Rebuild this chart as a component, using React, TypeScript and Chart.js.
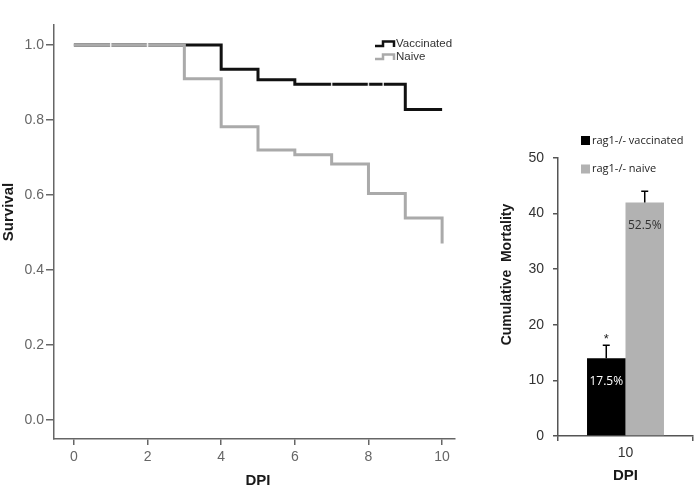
import React, { useEffect, useRef } from 'react';
import { Chart, registerables } from 'chart.js';

Chart.register(...registerables);

// ---- Survival (Kaplan-Meier) data ----
const dpiTicks = [0, 2, 4, 6, 8, 10];
const survivalTicks = [0, 0.2, 0.4, 0.6, 0.8, 1.0];
const vaccinatedDays = [0, 4, 5, 6, 9, 10];
const vaccinatedSurvival = [1.0, 0.935, 0.907, 0.895, 0.828, 0.828];
const naiveDays = [0, 3, 4, 5, 6, 7, 8, 9, 10];
const naiveSurvival = [1.0, 0.91, 0.782, 0.72, 0.707, 0.683, 0.604, 0.539, 0.471];
const vaccinatedCensorDays = [7, 8, 8.4];
const naiveCensorDays = [1, 2];
const survivalSeriesNames = ['Vaccinated', 'Naive'];

// ---- Cumulative mortality data ----
const barCategories = ['10'];
const barSeriesNames = ['rag1-/- vaccinated', 'rag1-/- naive'];
const mortalityValues = [14, 42];
const mortalityErrors = [2.3, 2.0];
const mortalityLabels = ['17.5%', '52.5%'];
const mortalityTicks = [0, 10, 20, 30, 40, 50];

const SANS = '"Liberation Sans", Arial, sans-serif';
const CAL = '"Open Sans", "Noto Sans", sans-serif';
const BLACK = '#111111';
const GRAY_LINE = '#aaaaaa';
const GRAY_BAR = '#b2b2b2';

function stepValue(days: number[], vals: number[], d: number) {
  let v = vals[0];
  for (let i = 0; i < days.length; i++) if (days[i] <= d) v = vals[i];
  return v;
}

const survivalOverlay = {
  id: 'survivalOverlay',
  afterDraw(chart: any) {
    const ctx = chart.ctx;
    ctx.save();
    // legend
    const items = [
      { name: survivalSeriesNames[0], color: BLACK, y: 44 },
      { name: survivalSeriesNames[1], color: GRAY_LINE, y: 57 },
    ];
    items.forEach((it) => {
      ctx.strokeStyle = it.color;
      ctx.lineWidth = 2.5;
      ctx.beginPath();
      ctx.moveTo(375, it.y + 2);
      ctx.lineTo(383, it.y + 2);
      ctx.lineTo(383, it.y - 2.5);
      ctx.lineTo(394, it.y - 2.5);
      ctx.lineTo(394, it.y + 3);
      ctx.stroke();
      ctx.fillStyle = '#333';
      ctx.font = `11.5px ${SANS}`;
      ctx.textAlign = 'left';
      ctx.textBaseline = 'middle';
      ctx.fillText(it.name, 396, it.y);
    });
    // axis titles
    ctx.fillStyle = '#1a1a1a';
    ctx.font = `bold 15px ${SANS}`;
    ctx.textAlign = 'center';
    ctx.textBaseline = 'middle';
    ctx.fillText('DPI', 258, 481);
    ctx.translate(9, 212);
    ctx.rotate(-Math.PI / 2);
    ctx.fillText('Survival', 0, 0);
    ctx.restore();
  },
};

const mortalityOverlay = {
  id: 'mortalityOverlay',
  afterDatasetsDraw(chart: any) {
    const ctx = chart.ctx;
    const yScale = chart.scales.y;
    ctx.save();
    mortalityValues.forEach((v, i) => {
      const bar = chart.getDatasetMeta(i).data[0];
      const yTop = yScale.getPixelForValue(v + mortalityErrors[i]);
      ctx.strokeStyle = '#000';
      ctx.lineWidth = 1.5;
      ctx.beginPath();
      ctx.moveTo(bar.x, bar.y);
      ctx.lineTo(bar.x, yTop);
      ctx.moveTo(bar.x - 3.5, yTop);
      ctx.lineTo(bar.x + 3.5, yTop);
      ctx.stroke();
      ctx.font = `12px ${CAL}`;
      ctx.textAlign = 'center';
      ctx.textBaseline = 'middle';
      ctx.fillStyle = i === 0 ? '#ffffff' : '#333333';
      ctx.fillText(mortalityLabels[i], bar.x, bar.y + 23);
      if (i === 0) {
        ctx.fillStyle = '#222';
        ctx.font = `13px ${SANS}`;
        ctx.fillText('*', bar.x, yTop - 6);
      }
    });
    ctx.restore();
  },
  afterDraw(chart: any) {
    const ctx = chart.ctx;
    ctx.save();
    const colors = ['#000000', GRAY_BAR];
    const ys = [140.5, 169];
    barSeriesNames.forEach((n, i) => {
      ctx.fillStyle = colors[i];
      ctx.fillRect(91, ys[i] - 4.5, 9, 9);
      ctx.fillStyle = '#222';
      ctx.font = `11px ${CAL}`;
      ctx.textAlign = 'left';
      ctx.textBaseline = 'middle';
      ctx.fillText(n, 102, ys[i]);
    });
    ctx.fillStyle = '#1a1a1a';
    ctx.font = `bold 15px ${SANS}`;
    ctx.textAlign = 'center';
    ctx.textBaseline = 'middle';
    ctx.fillText('DPI', 135.5, 475.5);
    ctx.font = `bold 14px ${SANS}`;
    ctx.translate(16.7, 274.5);
    ctx.rotate(-Math.PI / 2);
    ctx.fillText('Cumulative  Mortality', 0, 0);
    ctx.restore();
  },
};

export default function App() {
  const leftRef = useRef<HTMLCanvasElement>(null);
  const rightRef = useRef<HTMLCanvasElement>(null);

  useEffect(() => {
    const lineDs = (label: string, days: number[], vals: number[], color: string, order: number) => ({
      label,
      data: days.map((d, i) => ({ x: d, y: vals[i] })),
      stepped: true,
      borderColor: color,
      borderWidth: 3,
      pointRadius: 0,
      fill: false,
      order,
    });
    const censorDs = (days: number[], sd: number[], sv: number[], order: number) => ({
      label: 'censor',
      data: days.map((d) => ({ x: d, y: stepValue(sd, sv, d) })),
      showLine: false,
      pointStyle: 'line',
      rotation: 90,
      pointRadius: 3,
      pointBorderWidth: 1.5,
      pointBorderColor: 'rgba(255,255,255,0.85)',
      pointBackgroundColor: 'rgba(255,255,255,0.85)',
      order,
    });

    const left = new Chart(leftRef.current as HTMLCanvasElement, {
      type: 'line',
      data: {
        datasets: [
          censorDs(naiveCensorDays, naiveDays, naiveSurvival, -2),
          censorDs(vaccinatedCensorDays, vaccinatedDays, vaccinatedSurvival, -1),
          lineDs(survivalSeriesNames[1], naiveDays, naiveSurvival, GRAY_LINE, 0),
          lineDs(survivalSeriesNames[0], vaccinatedDays, vaccinatedSurvival, BLACK, 1),
        ] as any,
      },
      options: {
        responsive: false,
        animation: false,
        layout: { padding: { top: 25, right: 25, left: 0, bottom: 0 } },
        plugins: { legend: { display: false }, tooltip: { enabled: false } },
        scales: {
          x: {
            type: 'linear',
            min: -0.54,
            max: 10.35,
            afterBuildTicks: (s: any) => {
              s.ticks = dpiTicks.map((v) => ({ value: v }));
            },
            afterFit: (s: any) => {
              s.height = 52;
            },
            grid: { drawOnChartArea: false, drawTicks: true, tickLength: 6, color: '#666', lineWidth: 1.5 },
            border: { display: true, color: '#666', width: 1.5 },
            ticks: {
              font: { family: SANS, size: 14 },
              color: '#666',
              padding: 4,
              maxRotation: 0,
              autoSkip: false,
              callback: (v: any) => String(v),
            },
          },
          y: {
            type: 'linear',
            min: -0.05,
            max: 1.053,
            afterBuildTicks: (s: any) => {
              s.ticks = survivalTicks.map((v) => ({ value: v }));
            },
            afterFit: (s: any) => {
              s.width = 54;
            },
            grid: { drawOnChartArea: false, drawTicks: true, tickLength: 8, color: '#666', lineWidth: 1.5 },
            border: { display: true, color: '#666', width: 1.5 },
            ticks: {
              font: { family: SANS, size: 14 },
              color: '#666',
              padding: 2,
              autoSkip: false,
              callback: (v: any) => Number(v).toFixed(1),
            },
          },
        },
      } as any,
      plugins: [survivalOverlay],
    });

    const right = new Chart(rightRef.current as HTMLCanvasElement, {
      type: 'bar',
      data: {
        labels: barCategories,
        datasets: [
          {
            label: barSeriesNames[0],
            data: [mortalityValues[0]],
            backgroundColor: '#000000',
            categoryPercentage: 0.57,
            barPercentage: 1.0,
          },
          {
            label: barSeriesNames[1],
            data: [mortalityValues[1]],
            backgroundColor: GRAY_BAR,
            categoryPercentage: 0.57,
            barPercentage: 1.0,
          },
        ],
      },
      options: {
        responsive: false,
        animation: false,
        layout: { padding: { top: 158, right: 4, left: 0, bottom: 0 } },
        plugins: { legend: { display: false }, tooltip: { enabled: false } },
        scales: {
          x: {
            afterFit: (s: any) => {
              s.height = 55;
            },
            grid: { drawOnChartArea: false, drawTicks: true, tickLength: 5, color: '#555', lineWidth: 1.5, offset: true },
            border: { display: true, color: '#555', width: 1.5 },
            ticks: { font: { family: SANS, size: 14 }, color: '#333', padding: 4 },
          },
          y: {
            min: 0,
            max: 50,
            afterBuildTicks: (s: any) => {
              s.ticks = mortalityTicks.map((v) => ({ value: v }));
            },
            afterFit: (s: any) => {
              s.width = 68;
            },
            grid: { drawOnChartArea: false, drawTicks: true, tickLength: 5, color: '#555', lineWidth: 1.5 },
            border: { display: true, color: '#555', width: 1.5 },
            ticks: { font: { family: SANS, size: 14 }, color: '#333', padding: 9, autoSkip: false },
          },
        },
      } as any,
      plugins: [mortalityOverlay],
    });

    return () => {
      left.destroy();
      right.destroy();
    };
  }, []);

  return (
    <div style={{ position: 'fixed', left: 0, top: 0, width: 697, height: 491, background: '#fff' }}>
      <canvas ref={leftRef} width={480} height={491} style={{ position: 'absolute', left: 0, top: 0 }} />
      <canvas ref={rightRef} width={207} height={491} style={{ position: 'absolute', left: 490, top: 0 }} />
    </div>
  );
}
